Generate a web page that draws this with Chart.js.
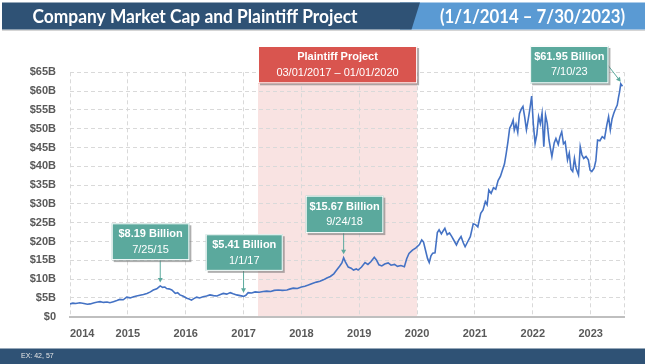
<!DOCTYPE html>
<html><head><meta charset="utf-8">
<script src="https://cdn.jsdelivr.net/npm/chart.js@4.4.0/dist/chart.umd.min.js"></script>
<style>html,body{margin:0;padding:0;background:#fff;overflow:hidden}canvas{display:block}</style>
</head><body>
<canvas id="c" width="645" height="364"></canvas>
<script>
// ---------- DATA ----------
const titleText = 'Company Market Cap and Plaintiff Project';
const rangeText = '(1/1/2014 \u2013 7/30/2023)';
const footerText = 'EX: 42, 57';

// dates as decimal years, market cap in $ billions
const dates = [
2014.00,2014.05,2014.10,2014.17,2014.24,2014.30,2014.35,2014.42,2014.48,2014.52,2014.58,2014.64,2014.69,2014.75,2014.81,2014.86,2014.92,2014.98,
2015.04,2015.10,2015.15,2015.21,2015.27,2015.33,2015.39,2015.44,2015.50,2015.53,2015.56,2015.60,2015.64,2015.67,2015.71,2015.76,2015.82,2015.86,2015.90,2015.95,
2016.02,2016.06,2016.10,2016.14,2016.19,2016.24,2016.30,2016.36,2016.42,2016.48,2016.54,2016.60,2016.65,2016.71,2016.77,2016.82,2016.88,2016.94,
2017.00,2017.04,2017.08,2017.14,2017.20,2017.27,2017.34,2017.40,2017.47,2017.53,2017.60,2017.67,2017.75,2017.81,2017.86,2017.93,
2018.00,2018.06,2018.12,2018.20,2018.26,2018.32,2018.38,2018.44,2018.50,2018.56,2018.61,2018.66,2018.70,2018.73,2018.76,2018.81,2018.86,2018.90,2018.95,2018.98,
2019.04,2019.10,2019.15,2019.20,2019.26,2019.30,2019.34,2019.39,2019.44,2019.50,2019.55,2019.61,2019.66,2019.72,2019.78,2019.82,2019.86,2019.92,2019.98,
2020.04,2020.08,2020.11,2020.14,2020.18,2020.21,2020.24,2020.27,2020.31,2020.35,2020.38,2020.42,2020.45,2020.48,2020.52,2020.56,2020.60,2020.64,2020.68,2020.72,2020.76,2020.80,2020.83,2020.87,2020.92,2020.97,
2021.01,2021.05,2021.10,2021.14,2021.18,2021.21,2021.24,2021.28,2021.32,2021.36,2021.40,2021.44,2021.48,2021.51,2021.54,2021.57,2021.60,2021.63,2021.66,2021.68,2021.71,2021.74,2021.77,2021.80,2021.83,2021.86,2021.89,2021.92,2021.95,2021.98,
2022.01,2022.04,2022.07,2022.10,2022.13,2022.16,2022.19,2022.22,2022.25,2022.28,2022.31,2022.33,2022.37,2022.40,2022.44,2022.47,2022.50,2022.53,2022.56,2022.60,2022.63,2022.66,2022.69,2022.72,2022.75,2022.79,2022.82,2022.85,2022.88,2022.92,2022.96,2022.99,
2023.02,2023.06,2023.09,2023.12,2023.16,2023.20,2023.24,2023.28,2023.31,2023.34,2023.37,2023.40,2023.43,2023.46,2023.48,2023.50,2023.52,2023.55
];
const marketCap = [
3.4,3.6,3.5,3.7,3.5,3.3,3.4,3.7,3.9,4.0,3.8,3.9,3.7,4.0,4.3,4.6,4.5,5.2,
5.0,5.3,5.5,5.7,5.9,6.2,6.6,7.1,7.4,7.8,8.19,7.8,7.9,7.5,7.4,7.1,6.2,6.4,5.8,5.5,
4.9,4.7,4.4,4.8,5.2,5.0,5.3,5.5,5.8,5.6,5.5,5.9,6.2,6.0,6.4,6.1,5.8,5.6,
5.41,5.7,6.4,6.3,6.6,6.5,6.7,6.8,6.7,7.0,7.1,7.0,7.1,7.4,7.6,7.5,
7.9,8.1,8.4,8.9,9.2,9.4,9.8,10.3,10.7,11.4,12.4,13.4,14.3,15.67,14.6,13.2,12.9,12.4,12.7,12.4,
13.2,14.4,13.9,14.6,15.8,15.0,13.8,13.5,14.0,14.3,13.7,13.9,13.4,13.6,13.3,15.4,16.8,17.7,18.3,
19.2,20.4,19.9,18.0,15.5,14.4,16.2,16.9,17.0,22.4,23.1,22.0,22.8,23.5,21.8,22.3,21.3,20.2,19.1,20.4,21.3,19.6,18.6,19.8,21.3,24.7,
24.5,23.9,27.5,28.4,30.6,29.8,33.7,32.8,34.3,33.9,36.2,37.3,39.2,40.6,43.4,46.5,50.1,51.0,52.3,49.6,51.2,49.0,54.0,55.2,55.9,53.1,49.7,52.4,55.3,58.7,
51.0,46.1,48.5,53.2,51.3,54.1,45.2,53.6,51.4,47.0,44.3,42.6,46.2,47.4,45.8,47.9,49.2,46.0,46.5,41.7,43.5,39.2,38.6,42.1,39.4,37.7,45.2,43.0,42.1,42.6,41.7,39.0,
38.6,39.5,41.5,47.0,46.8,47.9,47.4,51.0,53.2,49.7,52.6,54.1,55.3,56.3,58.2,59.8,61.95,61.3
];

const yearTicks = [2014,2015,2016,2017,2018,2019,2020,2021,2022,2023];
const axisEnd = 2023.58;          // 7/30/2023
const yMax = 65, yStep = 5;

const projectStart = 2017.25, projectEnd = 2020.0;
const projectTitle = 'Plaintiff Project';
const projectSub = '03/01/2017 \u2013 01/01/2020';

const calloutDates  = [2015.56, 2017.00, 2018.73, 2023.52];
const calloutValues = [8.19, 5.41, 15.67, 61.95];
const calloutTitles = ['$8.19 Billion', '$5.41 Billion', '$15.67 Billion', '$61.95 Billion'];
const calloutSubs   = ['7/25/15', '1/1/17', '9/24/18', '7/10/23'];

// ---------- STYLE / LAYOUT ----------
const calloutLayout = [
  {dx:-48.5, dy:-62.6, w:77.6, h:36.8, arrow:'down'},
  {dx:-37.8, dy:-62.1, w:77.0, h:36.6, arrow:'down'},
  {dx:-37.9, dy:-62.1, w:77.6, h:37.4, arrow:'down'},
  {dx:-90.6, dy:-37.8, w:78.3, h:37.3, arrow:'side'}
];
const TEAL = '#5BA99D', RED = '#D9554F', SHADE = '#F9E3E2';
const DARK = '#2F5275', LIGHT = '#5A9AD3';
const FONT = '"Liberation Sans", Arial, sans-serif';

function drawBox(ctx, x, y, w, h, fill) {
  ctx.save();
  ctx.fillStyle = 'rgba(110,110,110,0.55)';
  ctx.fillRect(x + 2, y + 2, w, h);
  ctx.fillStyle = fill;
  ctx.fillRect(x, y, w, h);
  ctx.strokeStyle = '#FFFFFF';
  ctx.lineWidth = 1;
  ctx.strokeRect(x + 0.5, y + 0.5, w - 1, h - 1);
  ctx.restore();
}
function boxText(ctx, x, y, w, t1, t2) {
  ctx.save();
  ctx.fillStyle = '#FFFFFF';
  ctx.textAlign = 'center';
  ctx.textBaseline = 'middle';
  ctx.font = 'bold 11px ' + FONT;
  ctx.fillText(t1, x + w / 2, y + 11);
  ctx.font = '11px ' + FONT;
  ctx.fillText(t2, x + w / 2, y + 26.5);
  ctx.restore();
}
function arrow(ctx, x1, y1, x2, y2, color) {
  const a = Math.atan2(y2 - y1, x2 - x1);
  ctx.save();
  ctx.strokeStyle = color; ctx.fillStyle = color; ctx.lineWidth = 1;
  ctx.beginPath(); ctx.moveTo(x1, y1); ctx.lineTo(x2 - 3 * Math.cos(a), y2 - 3 * Math.sin(a)); ctx.stroke();
  ctx.beginPath();
  ctx.moveTo(x2, y2);
  ctx.lineTo(x2 - 4.5 * Math.cos(a) + 2.5 * Math.sin(a), y2 - 4.5 * Math.sin(a) - 2.5 * Math.cos(a));
  ctx.lineTo(x2 - 4.5 * Math.cos(a) - 2.5 * Math.sin(a), y2 - 4.5 * Math.sin(a) + 2.5 * Math.cos(a));
  ctx.closePath(); ctx.fill();
  ctx.restore();
}
function fitText(ctx, text, x, baseline, width, font) {
  ctx.save();
  ctx.font = font;
  const m = ctx.measureText(text).width;
  ctx.translate(x, baseline);
  ctx.scale(width / m, 1);
  ctx.fillStyle = '#FFFFFF';
  ctx.textBaseline = 'alphabetic';
  ctx.textAlign = 'left';
  ctx.fillText(text, 0, 0);
  ctx.restore();
}

const chromePlugin = {
  id: 'chrome',
  beforeDraw(chart) {
    const {ctx, chartArea, scales} = chart;
    const W = chart.width, H = chart.height;
    ctx.save();
    ctx.fillStyle = '#FFFFFF'; ctx.fillRect(0, 0, W, H);
    // title bar
    ctx.fillStyle = '#D5D5D5'; ctx.fillRect(2, 29.5, W - 2, 1.5);
    ctx.fillStyle = LIGHT; ctx.fillRect(400, 2.5, W - 400, 27);
    ctx.fillStyle = DARK;
    ctx.beginPath(); ctx.moveTo(2, 2.5); ctx.lineTo(420, 2.5); ctx.lineTo(411.5, 29.5); ctx.lineTo(2, 29.5); ctx.closePath(); ctx.fill();
    fitText(ctx, titleText, 32.5, 23.3, 325, 'bold 19px Lato, "Open Sans", sans-serif');
    fitText(ctx, rangeText, 440, 23.3, 185, 'bold 19px Lato, "Open Sans", sans-serif');
    // footer bar
    ctx.fillStyle = DARK; ctx.fillRect(0, 348.5, W, H - 348.5);
    ctx.fillStyle = '#E6E6E6'; ctx.font = '7px ' + FONT; ctx.textBaseline = 'middle'; ctx.textAlign = 'left';
    ctx.fillText(footerText, 21, 356);
    // project shading
    const x1 = scales.x.getPixelForValue(projectStart), x2 = scales.x.getPixelForValue(projectEnd);
    ctx.fillStyle = SHADE;
    ctx.fillRect(x1, chartArea.top, x2 - x1, chartArea.bottom - chartArea.top);
    ctx.restore();
  },
  afterDraw(chart) {
    const {ctx, chartArea, scales} = chart;
    // project label box
    const x1 = scales.x.getPixelForValue(projectStart), x2 = scales.x.getPixelForValue(projectEnd);
    const top = chartArea.top - 26.3;
    drawBox(ctx, x1, top, x2 - x1, 37.3, RED);
    boxText(ctx, x1, top, x2 - x1, projectTitle, projectSub);
    // callouts
    calloutDates.forEach((d, i) => {
      const L = calloutLayout[i];
      const px = scales.x.getPixelForValue(d), py = scales.y.getPixelForValue(calloutValues[i]);
      const bx = px + L.dx, by = py + L.dy;
      if (L.arrow === 'down') arrow(ctx, px, by + L.h, px, py - 3.5, TEAL);
      else arrow(ctx, bx + L.w - 1, by + L.h / 2, px, py - 2, TEAL);
      drawBox(ctx, bx, by, L.w, L.h, TEAL);
      boxText(ctx, bx, by, L.w, calloutTitles[i], calloutSubs[i]);
    });
  }
};

const tickFont = {family: FONT, size: 11, weight: 'bold'};
new Chart(document.getElementById('c').getContext('2d'), {
  type: 'line',
  data: {
    datasets: [{
      data: dates.map((d, i) => ({x: d, y: marketCap[i]})),
      borderColor: '#4472C4', borderWidth: 1.6, pointRadius: 0, tension: 0, fill: false
    }]
  },
  options: {
    responsive: false, animation: false, devicePixelRatio: 1,
    layout: {padding: {top: 72.3, left: 0, right: 20.8, bottom: 0}},
    plugins: {legend: {display: false}, tooltip: {enabled: false}},
    scales: {
      x: {
        type: 'linear', min: 2014, max: axisEnd,
        afterBuildTicks: s => { s.ticks = yearTicks.concat([axisEnd]).map(v => ({value: v})); },
        afterFit: s => { s.height = 47.3; },
        grid: {color: '#D9D9D9', lineWidth: 1, drawTicks: false},
        border: {display: true, color: '#BFBFBF', width: 2, dash: [4, 3]},
        ticks: {autoSkip: false, maxRotation: 0, minRotation: 0, align: 'inner', padding: 11,
          color: '#595959', font: tickFont,
          callback: v => yearTicks.includes(v) ? String(v) : ''}
      },
      y: {
        min: 0, max: yMax,
        afterFit: s => { s.width = 70; },
        grid: {color: c => (c.tick && c.tick.value === 0) ? 'rgba(0,0,0,0)' : '#D9D9D9', lineWidth: 1, drawTicks: false},
        border: {display: false, dash: [4, 3]},
        ticks: {stepSize: yStep, padding: 14, color: '#595959', font: tickFont,
          callback: v => v === 0 ? '$0' : '$' + v + 'B'}
      }
    }
  },
  plugins: [chromePlugin]
});
</script>
</body></html>
